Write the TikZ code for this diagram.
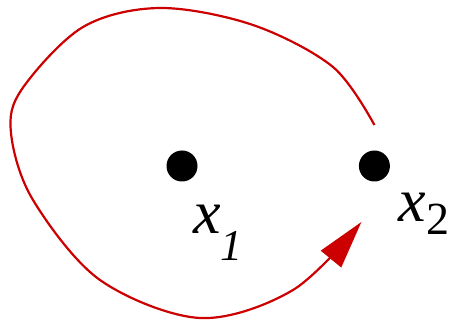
\documentclass[tikz,border=0pt]{standalone}
\usepackage{fontspec}
\setmainfont{Liberation Serif}
\usepackage{xcolor}
\usetikzlibrary{arrows.meta, positioning}
\definecolor{loopred}{RGB}{204,0,0}
\tikzstyle{point} = [circle, fill=black, draw=none, minimum size=31pt, inner sep=0pt]
\tikzstyle{varlabel} = [anchor=base west, inner sep=0pt, font=\fontsize{62}{62}\selectfont\itshape]
\tikzstyle{loop} = [draw=loopred, line width=2.2pt, -{Triangle[length=48pt,width=26pt,fill=loopred]}]

\begin{document}
\begin{tikzpicture}[x=1pt, y=1pt, node distance=161pt]
    \useasboundingbox (0,0) rectangle (450,321);
    \node (xone) [point] at (182,155) {};
    \node (xtwo) [point, right=of xone] {};

    \node (labone) [varlabel] at ([xshift=11pt, yshift=-68pt]xone.center) {x\raisebox{-27pt}{\fontsize{44}{44}\selectfont 1}};
    \node (labtwo) [varlabel] at ([xshift=24pt, yshift=-56pt]xtwo.center) {x\raisebox{-13pt}{\fontsize{46}{46}\selectfont\upshape 2}};

    \coordinate (loopstart) at ([yshift=41pt]xtwo.center);
    \coordinate (loopend) at ([xshift=-13pt, yshift=-56pt]xtwo.center);
    \draw [loop] plot [smooth, tension=0.55] coordinates {(loopstart) (333,254) (253,296) (160,313) (83,294) (22,232) (11,188) (33,121) (100,41) (200,3) (293,31) (loopend)};
\end{tikzpicture}
\end{document}
